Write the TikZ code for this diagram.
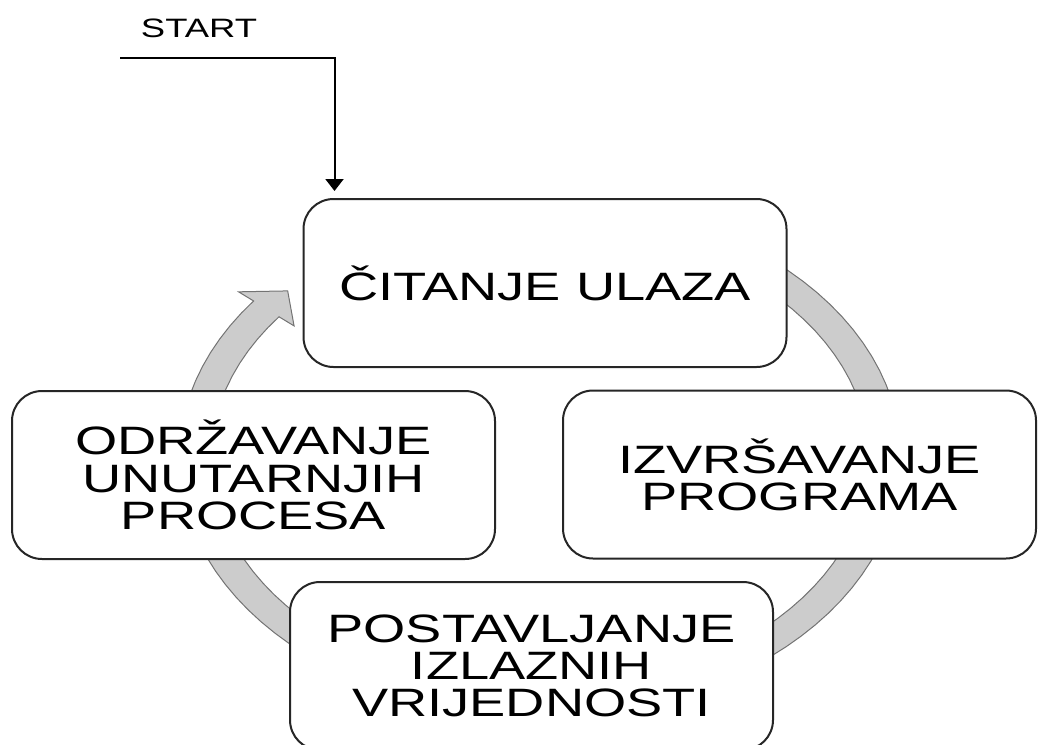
\documentclass[tikz,border=0pt]{standalone}
\usepackage{fontspec}
\usetikzlibrary{arrows.meta}
\newfontfamily\boxfont[FakeStretch=1.37]{Liberation Sans}

\begin{document}
\begin{tikzpicture}[x=0.5pt, y=-0.5pt,
    box/.style={draw=black!85, line width=1pt, fill=white, rounded corners=15pt,
      minimum width=241.5pt, minimum height=84pt, inner sep=0pt, align=center,
      font=\boxfont\fontsize{19.8}{18.6}\selectfont},
    ring/.style={fill=black!20, draw=black!55, line width=0.5pt},
    startline/.style={line width=1pt, -{Triangle[width=9pt, length=6pt]}, shorten >=3.5pt},
    starttxt/.style={font=\boxfont\fontsize{13.3}{14}\selectfont}]
    \useasboundingbox (0,0) rectangle (1038,744);

    % Prsten sa strelicom (iza kutija)
    \filldraw[ring] plot[domain=-80:217.5, samples=90] ({540+361*cos(\x)}, {458+258*sin(\x)})
      -- ({540+380*cos(217.5)}, {458+273*sin(217.5)})
      -- ({540+345*cos(223)}, {458+245*sin(223)})
      -- ({540+310*cos(217.5)}, {458+217*sin(217.5)})
      -- plot[domain=217.5:-80, samples=90] ({540+329*cos(\x)}, {458+232*sin(\x)}) -- cycle;

    % Kutije ciklusa
    \node[box] (citanje) at (545,283) {ČITANJE ULAZA};
    \node[box, minimum width=236.5pt] (izvrs) at (799.5,474.5) {IZVRŠAVANJE\\PROGRAMA};
    \node[box] (postav) at (531.5,666) {POSTAVLJANJE\\IZLAZNIH\\VRIJEDNOSTI};
    \node[box] (odrz) at (253.5,475) {ODRŽAVANJE\\UNUTARNJIH\\PROCESA};

    % Start
    \node[starttxt] (start) at (199,28) {START};
    \coordinate (startpt) at (120,58);
    \draw[startline] (startpt) -| ([xshift=16pt]citanje.north west);
\end{tikzpicture}
\end{document}
